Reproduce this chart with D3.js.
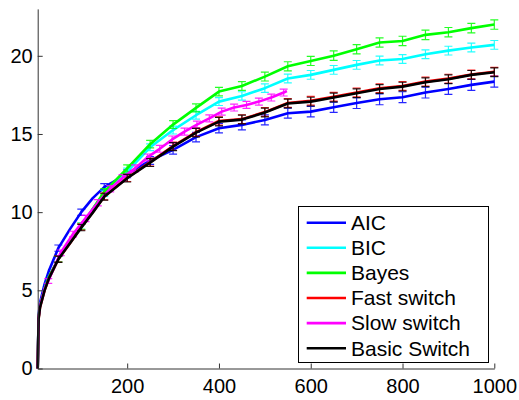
<!DOCTYPE html>
<html>
<head>
<meta charset="utf-8">
<script src="https://cdn.jsdelivr.net/npm/d3@7"></script>
<style>
  body { margin: 0; background: #fff; }
  text { font-family: "Liberation Sans", Arial, sans-serif; }
</style>
</head>
<body>
<div id="chart"></div>
<script>
// sample points (x) for the five full-length runs
const xMain = [5, 7, 10, 20, 30, 50, 75, 100, 125, 150, 200, 250, 300, 350, 400, 450, 500,
               550, 600, 650, 700, 750, 800, 850, 900, 950, 1000];
const aic   = [0, 3.4, 4.2, 5.4, 6.3, 7.7, 8.9, 10.0, 10.9, 11.6, 12.45, 13.3, 13.98, 14.8, 15.37, 15.58, 15.9,
               16.33, 16.43, 16.71, 16.98, 17.22, 17.35, 17.65, 17.88, 18.14, 18.35];
const bic   = [0, 3.3, 4.0, 5.1, 5.9, 7.0, 8.1, 9.1, 10.2, 11.2, 12.6, 14.15, 15.25, 16.2, 17.07, 17.43, 17.93,
               18.55, 18.78, 19.1, 19.42, 19.7, 19.8, 20.1, 20.33, 20.53, 20.7];
const bayes = [0, 3.3, 4.0, 5.1, 5.9, 7.0, 8.1, 9.1, 10.2, 11.3, 12.8, 14.35, 15.6, 16.67, 17.71, 18.07, 18.67,
               19.33, 19.67, 20.01, 20.42, 20.85, 20.95, 21.34, 21.51, 21.77, 22.0];
const fast  = [0, 3.2, 3.9, 5.0, 5.8, 7.0, 8.0, 9.05, 10.0, 11.0, 12.2, 13.2, 14.22, 15.12, 15.83, 15.95, 16.4,
               16.98, 17.12, 17.38, 17.65, 17.92, 18.07, 18.35, 18.54, 18.8, 18.98];
const basic = [0, 3.2, 3.9, 5.0, 5.8, 6.99, 8.0, 9.01, 9.97, 10.99, 12.17, 13.17, 14.19, 15.09, 15.79, 15.92, 16.37,
               16.95, 17.07, 17.33, 17.6, 17.88, 18.03, 18.31, 18.5, 18.78, 18.95];

// error bar half-lengths at x = 50, 100, ..., 1000
const aicErr   = [0.2, 0.2, 0.22, 0.25, 0.25, 0.27, 0.3, 0.3, 0.32, 0.32, 0.32, 0.33, 0.33, 0.35, 0.35, 0.35, 0.35, 0.35, 0.35, 0.35];
const bicErr   = [0.18, 0.2, 0.2, 0.22, 0.22, 0.25, 0.25, 0.25, 0.27, 0.27, 0.28, 0.28, 0.28, 0.28, 0.28, 0.28, 0.28, 0.28, 0.28, 0.28];
const bayesErr = [0.18, 0.2, 0.2, 0.22, 0.24, 0.25, 0.26, 0.27, 0.28, 0.28, 0.29, 0.29, 0.3, 0.3, 0.3, 0.3, 0.3, 0.3, 0.3, 0.3];
const fastErr  = [0.2, 0.2, 0.22, 0.24, 0.25, 0.26, 0.27, 0.27, 0.28, 0.28, 0.28, 0.28, 0.28, 0.28, 0.28, 0.28, 0.28, 0.28, 0.28, 0.28];
const basicErr = [0.2, 0.2, 0.22, 0.24, 0.25, 0.26, 0.27, 0.27, 0.28, 0.28, 0.28, 0.28, 0.28, 0.28, 0.28, 0.28, 0.28, 0.28, 0.28, 0.28];

// slow switch run is shorter and sampled on its own grid
const xSlow   = [5, 7, 10, 20, 28, 55, 82, 109, 136, 163, 190, 217, 244, 271, 298, 325, 352, 379, 406, 433, 460, 487, 514, 541, 548];
const slow    = [0, 3.3, 4.0, 5.1, 5.6, 7.4, 8.6, 9.6, 10.6, 11.5, 12.2, 12.8, 13.5, 14.05, 14.65, 15.15, 15.6, 16.0, 16.43,
                 16.69, 16.86, 17.07, 17.33, 17.65, 17.75];
const slowErr = [0, 0, 0, 0, 0.15, 0.18, 0.18, 0.2, 0.2, 0.2, 0.2, 0.22, 0.22, 0.22, 0.22, 0.22, 0.22, 0.22, 0.22,
                 0.22, 0.22, 0.22, 0.22, 0.22, 0];

const names  = ["AIC", "BIC", "Bayes", "Fast switch", "Slow switch", "Basic Switch"];
const colors = ["#0000ff", "#00ffff", "#00ff00", "#ff0000", "#ff00ff", "#000000"];
const xTicks = [200, 400, 600, 800, 1000];
const yTicks = [0, 5, 10, 15, 20];

const W = 519, H = 400;
const svg = d3.select("#chart").append("svg")
              .attr("width", W)
              .attr("height", H);

const x = d3.scaleLinear().domain([5, 1000]).range([37.7, 494.3]);
const y = d3.scaleLinear().domain([0, 23]).range([368.5, 8.9]);

const mainErrs = [aicErr, bicErr, bayesErr, fastErr, null, basicErr];
const mainVals = [aic, bic, bayes, fast, null, basic];

const series = names.map((name, i) => {
  if (i === 4) {
    return { name, color: colors[i],
             pts: xSlow.map((v, j) => ({ x: v, y: slow[j], e: slowErr[j] })) };
  }
  let k = 0;
  return { name, color: colors[i],
           pts: xMain.map((v, j) => {
             let e = 0;
             if (v >= 50 && v % 50 === 0) { e = mainErrs[i][k]; k++; }
             return { x: v, y: mainVals[i][j], e };
           }) };
});

const line = d3.line().x(d => x(d.x)).y(d => y(d.y));

const cap = 4;
series.forEach(s => {
  const g = svg.append("g");
  const bars = s.pts.filter(d => d.e > 0);
  g.selectAll("path.eb")
   .data(bars)
   .enter()
   .append("path")
   .attr("class", "eb")
   .attr("d", d => {
     const cx = x(d.x), y0 = y(d.y - d.e), y1 = y(d.y + d.e);
     return `M${cx},${y0}V${y1}M${cx - cap},${y0}H${cx + cap}M${cx - cap},${y1}H${cx + cap}`;
   })
   .attr("fill", "none")
   .attr("stroke", s.color)
   .attr("stroke-opacity", 0.85)
   .attr("stroke-width", 1.2);
  g.append("path")
   .datum(s.pts)
   .attr("d", line)
   .attr("fill", "none")
   .attr("stroke", s.color)
   .attr("stroke-width", 2.6)
   .attr("stroke-linejoin", "round");
});

// axes (matlab style: ticks inside, no box)
svg.append("g")
   .attr("transform", `translate(0,${y(0)})`)
   .call(d3.axisBottom(x).tickValues(xTicks).tickFormat(d3.format("d"))
           .tickSize(-5).tickSizeOuter(0).tickPadding(10))
   .call(g => g.select(".domain").attr("stroke", "#333"))
   .call(g => g.selectAll(".tick line").attr("stroke", "#333"))
   .selectAll("text")
   .attr("fill", "#000")
   .style("font-size", "20px");

svg.append("g")
   .attr("transform", `translate(${x(5)},0)`)
   .call(d3.axisLeft(y).tickValues(yTicks).tickSize(-5).tickSizeOuter(0).tickPadding(5))
   .call(g => g.select(".domain").attr("stroke", "#333"))
   .call(g => g.selectAll(".tick line").attr("stroke", "#333"))
   .selectAll("text")
   .attr("fill", "#000")
   .style("font-size", "20px");

// legend
const lg = svg.append("g");
lg.append("rect")
  .attr("x", 298.5).attr("y", 206.5)
  .attr("width", 190).attr("height", 156)
  .attr("fill", "#fff")
  .attr("stroke", "#000")
  .attr("stroke-width", 1);

names.forEach((n, i) => {
  const ly = 222.7 + i * 25.1;
  lg.append("line")
    .attr("x1", 306.7).attr("x2", 346)
    .attr("y1", ly).attr("y2", ly)
    .attr("stroke", colors[i])
    .attr("stroke-width", 2.6);
  lg.append("text")
    .attr("x", 351).attr("y", ly)
    .attr("dy", "0.35em")
    .style("font-size", "21px")
    .text(n);
});
</script>
</body>
</html>
